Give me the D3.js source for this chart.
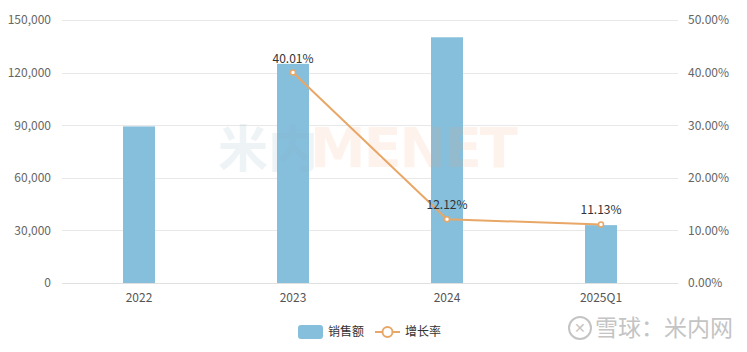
<!DOCTYPE html>
<html>
<head>
<meta charset="utf-8">
<script src="https://cdn.jsdelivr.net/npm/d3@7"></script>
<style>
  body { margin: 0; background: #fff; }
  text { font-family: "Noto Sans CJK SC", "Open Sans", sans-serif; }
</style>
</head>
<body>
<div id="chart"></div>
<script>
// data
const categories = ['2022', '2023', '2024', '2025Q1'];
const sales = [89300, 125000, 140150, 33000];
const growth = [null, 0.4001, 0.1212, 0.1113];
const salesTicks = [0, 30000, 60000, 90000, 120000, 150000];
const growthTicks = [0, 0.1, 0.2, 0.3, 0.4, 0.5];

const width = 747;
const height = 352;
const margin = { top: 20, right: 69, bottom: 69, left: 62 };

const barColor = '#86bfdc';
const lineColor = '#e8a766';

const svg = d3.select('#chart')
    .append('svg')
    .attr('width', width)
    .attr('height', height);

const x = d3.scaleBand()
    .domain(categories)
    .range([margin.left, width - margin.right]);

const yLeft = d3.scaleLinear()
    .domain([0, 150000])
    .range([height - margin.bottom, margin.top]);

const yRight = d3.scaleLinear()
    .domain([0, 0.5])
    .range([height - margin.bottom, margin.top]);

// grid lines
svg.append('g')
    .selectAll('line')
    .data(salesTicks)
    .join('line')
    .attr('x1', margin.left)
    .attr('x2', width - margin.right)
    .attr('y1', d => Math.round(yLeft(d)) + 0.5)
    .attr('y2', d => Math.round(yLeft(d)) + 0.5)
    .attr('stroke', '#e8e8e8')
    .attr('stroke-width', 1);

// left axis
const leftAxis = svg.append('g')
    .attr('transform', `translate(${margin.left - 8},0)`)
    .call(d3.axisLeft(yLeft).tickValues(salesTicks).tickSize(0).tickFormat(d3.format(',')));
leftAxis.select('.domain').remove();
leftAxis.selectAll('text')
    .attr('fill', '#666')
    .style('font-size', '12px');

// right axis
const rightAxis = svg.append('g')
    .attr('transform', `translate(${width - margin.right + 7},0)`)
    .call(d3.axisRight(yRight).tickValues(growthTicks).tickSize(0).tickFormat(d3.format('.2%')));
rightAxis.select('.domain').remove();
rightAxis.selectAll('text')
    .attr('fill', '#666')
    .style('font-size', '12px');

// bottom axis
const bottomAxis = svg.append('g')
    .attr('transform', `translate(0,${height - margin.bottom})`)
    .call(d3.axisBottom(x).tickSize(0).tickPadding(10));
bottomAxis.select('.domain').attr('stroke', '#e0e0e0');
bottomAxis.selectAll('text')
    .attr('fill', '#555')
    .style('font-size', '12px');

// bars
const barWidth = 32;
svg.append('g')
    .selectAll('rect')
    .data(sales)
    .join('rect')
    .attr('x', (d, i) => x(categories[i]) + x.bandwidth() / 2 - barWidth / 2)
    .attr('y', d => yLeft(d))
    .attr('width', barWidth)
    .attr('height', d => yLeft(0) - yLeft(d))
    .attr('fill', barColor);

// line
const points = growth
    .map((g, i) => ({ cat: categories[i], g }))
    .filter(d => d.g !== null);

const line = d3.line()
    .x(d => x(d.cat) + x.bandwidth() / 2)
    .y(d => yRight(d.g));

svg.append('path')
    .datum(points)
    .attr('d', line)
    .attr('fill', 'none')
    .attr('stroke', lineColor)
    .attr('stroke-width', 2);

svg.append('g')
    .selectAll('circle')
    .data(points)
    .join('circle')
    .attr('cx', d => x(d.cat) + x.bandwidth() / 2)
    .attr('cy', d => yRight(d.g))
    .attr('r', 2.5)
    .attr('fill', '#fff')
    .attr('stroke', lineColor)
    .attr('stroke-width', 1.5);

svg.append('g')
    .selectAll('text')
    .data(points)
    .join('text')
    .attr('x', d => x(d.cat) + x.bandwidth() / 2)
    .attr('y', d => yRight(d.g) - 10)
    .attr('text-anchor', 'middle')
    .attr('fill', '#333')
    .style('font-size', '12px')
    .text(d => d3.format('.2%')(d.g));

// watermark
const wm = svg.append('g').style('pointer-events', 'none');
wm.append('text')
    .attr('x', 218)
    .attr('y', 167)
    .attr('fill', '#8fb0c4')
    .attr('fill-opacity', 0.15)
    .style('font-size', '50px')
    .style('font-weight', 'bold')
    .text('米内');
wm.append('text')
    .attr('x', 310)
    .attr('y', 167)
    .attr('fill', '#f4a060')
    .attr('fill-opacity', 0.12)
    .style('font-family', '"DejaVu Sans", sans-serif')
    .style('font-size', '56px')
    .style('font-weight', 'bold')
    .attr('textLength', 208)
    .text('MENET');

// legend
const legend = svg.append('g')
    .attr('transform', `translate(298, ${height - 20})`);
legend.append('rect')
    .attr('x', 0)
    .attr('y', -7)
    .attr('width', 25)
    .attr('height', 14)
    .attr('rx', 3)
    .attr('fill', barColor);
legend.append('text')
    .attr('x', 30)
    .attr('y', 0)
    .attr('dy', '0.35em')
    .attr('fill', '#333')
    .style('font-size', '12px')
    .text('销售额');
legend.append('line')
    .attr('x1', 77)
    .attr('x2', 102)
    .attr('y1', 0)
    .attr('y2', 0)
    .attr('stroke', lineColor)
    .attr('stroke-width', 2);
legend.append('circle')
    .attr('cx', 89.5)
    .attr('cy', 0)
    .attr('r', 5)
    .attr('fill', '#fff')
    .attr('stroke', lineColor)
    .attr('stroke-width', 2);
legend.append('text')
    .attr('x', 107)
    .attr('y', 0)
    .attr('dy', '0.35em')
    .attr('fill', '#333')
    .style('font-size', '12px')
    .text('增长率');

// source mark, bottom right
const mark = svg.append('g')
    .attr('transform', `translate(580, ${height - 24})`);
mark.append('circle')
    .attr('cx', 0)
    .attr('cy', 0)
    .attr('r', 11)
    .attr('fill', 'none')
    .attr('stroke', '#c4c4c4')
    .attr('stroke-width', 2);
mark.append('text')
    .attr('x', 0)
    .attr('y', 0)
    .attr('dy', '0.35em')
    .attr('text-anchor', 'middle')
    .attr('fill', '#c4c4c4')
    .style('font-size', '14px')
    .text('✕');
mark.append('text')
    .attr('x', 15)
    .attr('y', 0)
    .attr('dy', '0.35em')
    .attr('fill', '#c4c4c4')
    .style('font-size', '23px')
    .text('雪球：米内网');
</script>
</body>
</html>
